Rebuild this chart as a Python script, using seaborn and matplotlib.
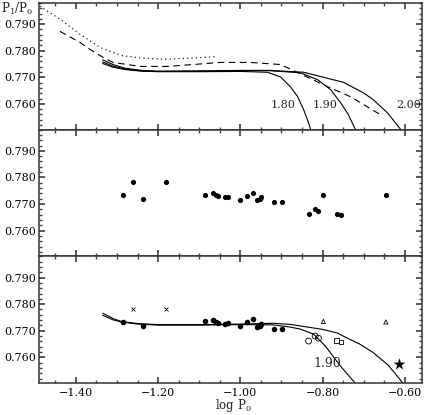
import matplotlib
matplotlib.use("Agg")
import matplotlib.pyplot as plt
import seaborn as sns
from matplotlib.ticker import MultipleLocator, FuncFormatter

# ─── Data ─────────────────────────────────────────────────────────────────────
# top panel: model sequences
dot_curve_logp = [-1.488, -1.439, -1.390, -1.341, -1.290, -1.240, -1.180, -1.120, -1.056]
dot_curve_r    = [0.7968, 0.7919, 0.7862, 0.7812, 0.7782, 0.7772, 0.7768, 0.7772, 0.7778]

dash_logp = [-1.439, -1.390, -1.366, -1.334, -1.310, -1.244, -1.178, -1.115, -1.049,
             -0.976, -0.902, -0.861, -0.788, -0.732, -0.659]
dash_r    = [0.7873, 0.7831, 0.7805, 0.7775, 0.7756, 0.7741, 0.7741, 0.7748, 0.7756,
             0.7756, 0.7748, 0.7718, 0.7665, 0.7627, 0.7559]

m180_logp = [-1.335, -1.31, -1.28, -1.24, -1.20, -1.10, -1.00, -0.934, -0.902, -0.878,
             -0.861, -0.846, -0.834, -0.828]
m180_r    = [0.7752, 0.7738, 0.7729, 0.7723, 0.7721, 0.7721, 0.7722, 0.7719, 0.7701, 0.7664,
             0.7628, 0.7578, 0.7528, 0.7500]
m190_logp = [-1.335, -1.31, -1.28, -1.24, -1.20, -1.10, -1.00, -0.93, -0.854, -0.812,
             -0.780, -0.756, -0.737, -0.719]
m190_r    = [0.7758, 0.7742, 0.7731, 0.7724, 0.7722, 0.7723, 0.7725, 0.7725, 0.7717, 0.7691,
             0.7653, 0.7604, 0.7559, 0.7500]
m200_logp = [-1.335, -1.31, -1.28, -1.24, -1.20, -1.10, -1.00, -0.93, -0.846, -0.749,
             -0.700, -0.676, -0.642, -0.608]
m200_r    = [0.7766, 0.7748, 0.7734, 0.7726, 0.7723, 0.7724, 0.7726, 0.7726, 0.7719, 0.7681,
             0.7641, 0.7615, 0.7566, 0.7500]
mass_labels = ["1.80", "1.90", "2.00"]
mass_label_logp = [-0.895, -0.793, -0.590]

# observed stars
dots_logp = [-1.285, -1.237, -1.085, -1.066, -1.059, -1.054, -1.037, -1.029, -1.002,
             -0.983, -0.968, -0.959, -0.953, -0.949, -0.917, -0.898]
dots_r    = [0.7734, 0.7719, 0.7735, 0.7740, 0.7733, 0.7729, 0.7727, 0.7728, 0.7716,
             0.7731, 0.7743, 0.7715, 0.7719, 0.7726, 0.7708, 0.7708]
cross_logp = [-1.261, -1.180]
cross_r    = [0.7783, 0.7783]
circ_logp = [-0.834, -0.818, -0.810]
circ_r    = [0.7661, 0.7680, 0.7672]
sq_logp = [-0.766, -0.755]
sq_r    = [0.7663, 0.7658]
tri_logp = [-0.798, -0.646]
tri_r    = [0.7735, 0.7733]
star_logp = [-0.615]
star_r    = [0.7574]

# bottom panel: fitted sequences
fit_a_logp = [-1.335, -1.31, -1.29, -1.25, -1.20, -1.10, -1.00, -0.92, -0.88, -0.854,
              -0.80, -0.763, -0.75, -0.71, -0.678, -0.64, -0.603]
fit_a_r    = [0.7766, 0.7746, 0.7735, 0.7727, 0.7723, 0.7723, 0.7725, 0.7728, 0.7724, 0.7718,
              0.7705, 0.7691, 0.7680, 0.7650, 0.7619, 0.7570, 0.7500]
fit_b_logp = [-1.335, -1.31, -1.29, -1.25, -1.20, -1.10, -1.00, -0.92, -0.88, -0.854,
              -0.822, -0.793, -0.756, -0.719]
fit_b_r    = [0.7758, 0.7741, 0.7733, 0.7725, 0.7721, 0.7721, 0.7723, 0.7722, 0.7714, 0.7706,
              0.7687, 0.7642, 0.7566, 0.7500]

# ─── Style ────────────────────────────────────────────────────────────────────
sns.set_theme(style="ticks")
plt.rcParams.update({
    "font.family": ["DejaVu Serif"],
    "mathtext.fontset": "dejavuserif",
    "font.size": 8,
    "xtick.direction": "in", "ytick.direction": "in",
    "xtick.top": True, "ytick.right": True,
    "xtick.major.size": 4.5, "ytick.major.size": 4.5,
    "xtick.minor.size": 2.5, "ytick.minor.size": 2.5,
    "xtick.color": "#444444", "ytick.color": "#444444",
    "xtick.labelcolor": "black", "ytick.labelcolor": "black",
    "xtick.labelsize": 8, "ytick.labelsize": 8,
    "axes.edgecolor": "#333333", "axes.linewidth": 1.1,
})

LW = 0.8
fig, axes = plt.subplots(3, 1, figsize=(4.28, 4.15), dpi=100, sharex=True)
fig.subplots_adjust(left=0.091, right=0.986, top=0.993, bottom=0.077, hspace=0)

for ax in axes:
    ax.set_xlim(-1.49, -0.558)
    ax.set_ylim(0.7503, 0.798)
    ax.xaxis.set_major_locator(MultipleLocator(0.2))
    ax.xaxis.set_minor_locator(MultipleLocator(0.05))
    ax.set_yticks([0.760, 0.770, 0.780, 0.790])
    ax.yaxis.set_minor_locator(MultipleLocator(0.002))
    ax.yaxis.set_major_formatter(FuncFormatter(lambda v, _: f"{v:.3f}"))
    ax.tick_params(which="both", top=True, right=True)
    ax.tick_params(axis="y", pad=2)
    ax.set_xlabel("")
    ax.set_ylabel("")

axes[2].xaxis.set_major_formatter(FuncFormatter(lambda v, _: f"{v:.2f}".replace("-", "\u2212")))

# top panel
ax = axes[0]
sns.lineplot(x=dot_curve_logp, y=dot_curve_r, ax=ax, sort=False, estimator=None,
             color="#222222", lw=0.9, linestyle=(0, (1, 2.5)))
sns.lineplot(x=dash_logp, y=dash_r, ax=ax, sort=False, estimator=None,
             color="black", lw=LW, linestyle=(0, (6, 4)))
for lp, r in [(m180_logp, m180_r), (m190_logp, m190_r), (m200_logp, m200_r)]:
    sns.lineplot(x=lp, y=r, ax=ax, sort=False, estimator=None, color="black", lw=LW)
for lab, lp in zip(mass_labels, mass_label_logp):
    ax.text(lp, 0.7595, lab, ha="center", va="center", fontsize=8)

# middle panel: all stars as filled dots
ax = axes[1]
all_logp = dots_logp + cross_logp + circ_logp + sq_logp + tri_logp
all_r = dots_r + cross_r + circ_r + sq_r + tri_r
sns.scatterplot(x=all_logp, y=all_r, ax=ax, color="black", s=14, linewidth=0)

# bottom panel
ax = axes[2]
sns.lineplot(x=fit_a_logp, y=fit_a_r, ax=ax, sort=False, estimator=None, color="black", lw=LW)
sns.lineplot(x=fit_b_logp, y=fit_b_r, ax=ax, sort=False, estimator=None, color="black", lw=LW)
sns.scatterplot(x=dots_logp, y=dots_r, ax=ax, color="black", s=16, linewidth=0)
sns.scatterplot(x=cross_logp, y=cross_r, ax=ax, color="black", marker="x", s=8, linewidth=0.6)
sns.scatterplot(x=circ_logp, y=circ_r, ax=ax, facecolor="none", edgecolor="black",
                marker="o", s=18, linewidth=0.6)
sns.scatterplot(x=sq_logp, y=sq_r, ax=ax, facecolor="none", edgecolor="black",
                marker="s", s=9, linewidth=0.6)
sns.scatterplot(x=tri_logp, y=tri_r, ax=ax, facecolor="none", edgecolor="black",
                marker="^", s=9, linewidth=0.6)
sns.scatterplot(x=star_logp, y=star_r, ax=ax, color="black", marker="*", s=80, linewidth=0)
ax.text(-0.788, 0.7578, "1.90", ha="center", va="center", fontsize=9)

fig.text(0.003, 0.979, r"P$_1$/P$_0$", ha="left", va="center", fontsize=8.5)
fig.text(0.545, 0.024, r"log P$_0$", ha="center", va="center", fontsize=8.5)

fig.savefig("out.png", dpi=100)
